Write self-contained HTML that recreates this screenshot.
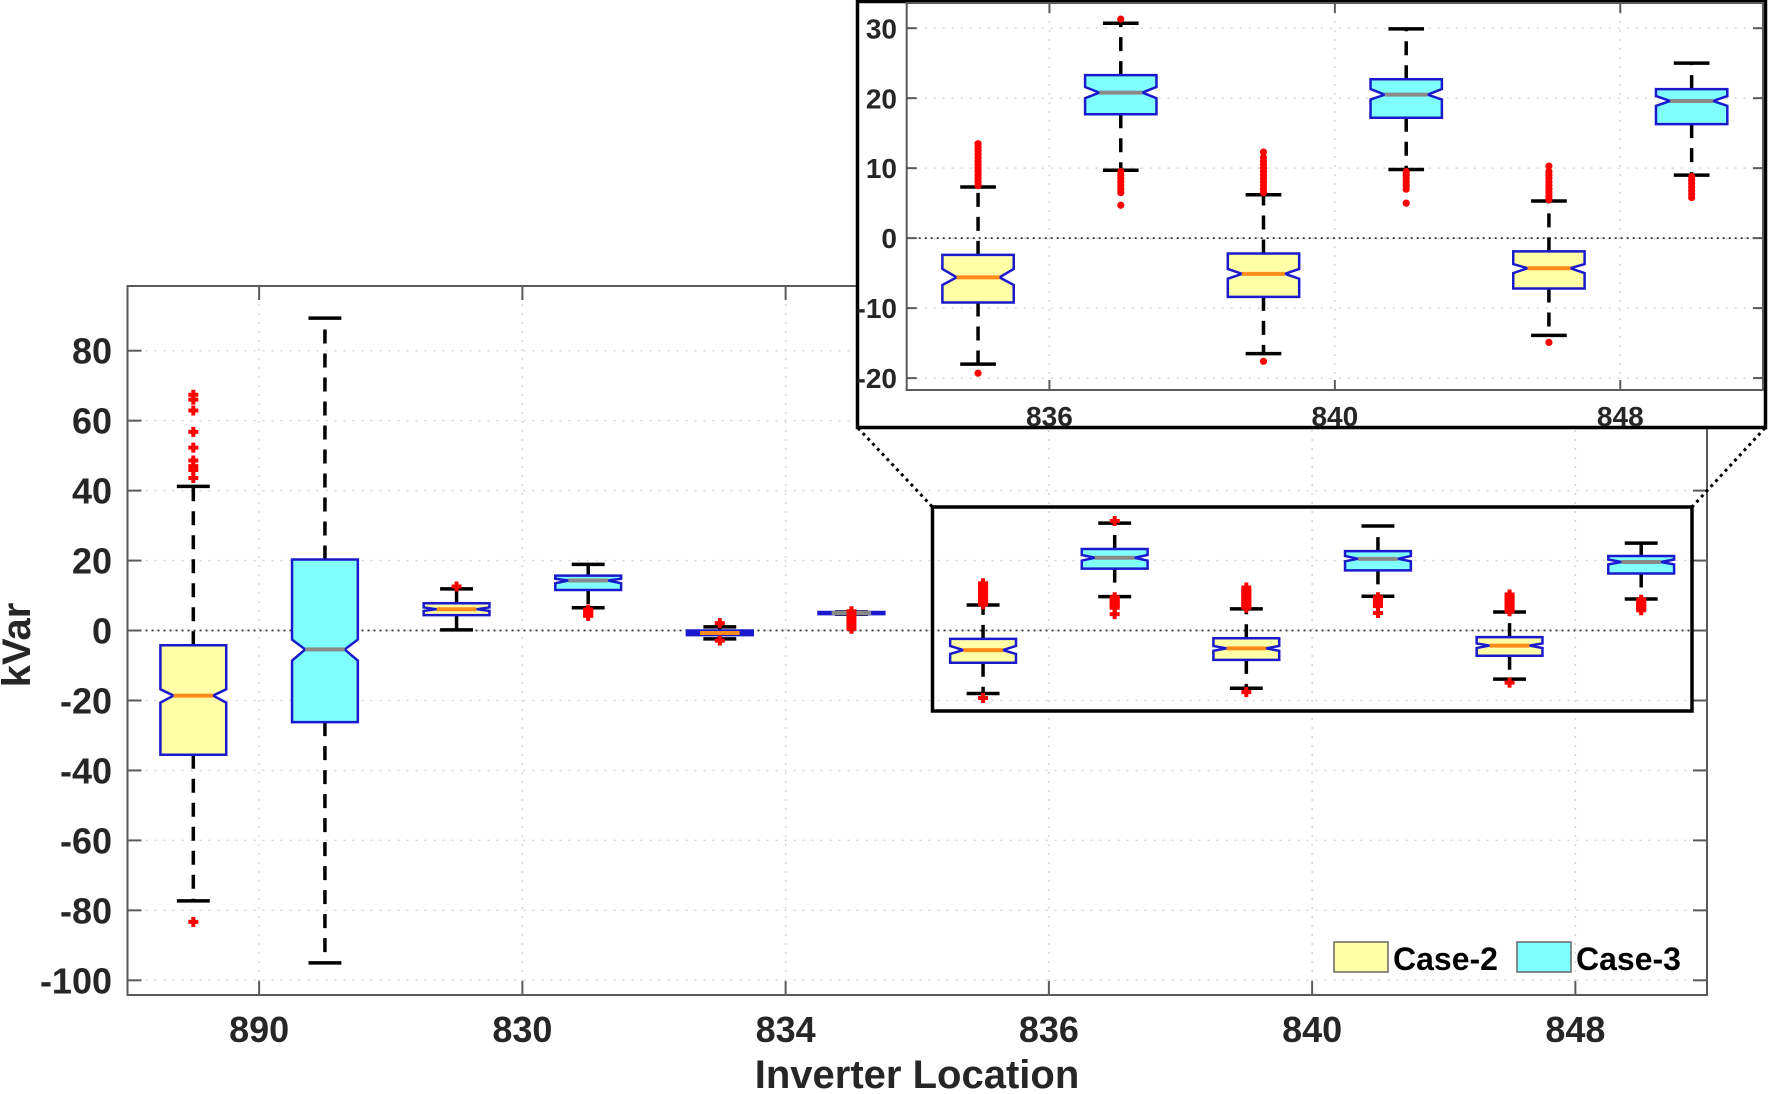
<!DOCTYPE html>
<html><head><meta charset="utf-8"><style>
html,body{margin:0;padding:0;background:#fff;}
svg{display:block;font-family:"Liberation Sans",Arial,sans-serif;font-weight:bold;}
</style></head>
<body>
<svg id="chart" width="1772" height="1094" viewBox="0 0 1772 1094" xmlns="http://www.w3.org/2000/svg">
<g id="main"></g>
<g id="inset"></g>
<g id="legend">
  <rect x="1334" y="942" width="54" height="30" fill="#ffffa6" stroke="#666" stroke-width="1.5"/>
  <text x="1393" y="970" font-size="32" fill="#000">Case-2</text>
  <rect x="1517" y="942" width="54" height="30" fill="#80ffff" stroke="#666" stroke-width="1.5"/>
  <text x="1576" y="970" font-size="32" fill="#000">Case-3</text>
</g>
<text x="0" y="0" font-size="40" fill="#262626" text-anchor="middle" transform="translate(30,645) rotate(-90)">kVar</text>
<text x="917" y="1088" font-size="40" fill="#262626" text-anchor="middle">Inverter Location</text>
</svg>
<script>
// ---- data ----
const categories = ["890","830","834","836","840","848"];
const series = ["Case-2","Case-3"];
const q3 = [-4.2, 20.3, 7.8, 15.7, 0, 5.3, -2.4, 23.3, -2.2, 22.7, -1.9, 21.3];
const q1 = [-35.5, -26.2, 4.4, 11.6, -1.3, 4.7, -9.2, 17.7, -8.4, 17.2, -7.2, 16.3];
const med = [-18.6, -5.4, 6.1, 14.3, -0.7, 5.0, -5.6, 20.8, -5.1, 20.5, -4.3, 19.6];
const notchHi = [-16.8, -2.6, 6.6, 14.8, -0.5, 5.1, -4.4, 21.6, -4.4, 21.3, -3.7, 20.3];
const notchLo = [-20.6, -8.6, 5.6, 13.5, -1.0, 4.9, -6.7, 20.0, -5.8, 19.8, -5.0, 18.9];
const whiskHi = [41.2, 89.3, 11.9, 18.9, 1.05, 5.3, 7.3, 30.7, 6.2, 29.9, 5.3, 25.0];
const whiskLo = [-77.3, -95.0, 0.2, 6.5, -2.4, 4.7, -18.0, 9.7, -16.5, 9.8, -13.9, 9.0];
const outliers = [
  [67.4, 66, 62.9, 56.8, 52.3, 48.6, 47, 45.9, 43.6, -83.3],
  [],
  [12.6],
  [6, 5.5, 5, 4.5, 4.2],
  [2.1, -2.9],
  [5.5, 4.5, 3.5, 2.5, 1.5, 0.5],
  [7.5, 8, 8.5, 9, 9.5, 10, 10.5, 11, 11.5, 12, 12.5, 13, 13.5, -19.3],
  [31.3, 9.5, 9, 8.5, 8, 7.5, 7, 6.5, 4.7],
  [6.5, 7, 7.5, 8, 8.5, 9, 9.5, 10, 10.5, 11, 11.5, 12.3, -17.6],
  [9.5, 9, 8.5, 8, 7.5, 7, 5],
  [5.5, 6, 6.5, 7, 7.5, 8, 8.5, 9, 9.5, 10.3, -14.9],
  [8.8, 8.3, 7.8, 7.3, 6.8, 6.3, 5.8]
];
const mainYTicks = [80, 60, 40, 20, 0, -20, -40, -60, -80, -100];
const insetYTicks = [30, 20, 10, 0, -10, -20];
const insetCategories = ["836","840","848"];

const NS = "http://www.w3.org/2000/svg";
function el(parent, tag, attrs, txt) {
  const e = document.createElementNS(NS, tag);
  for (const k in attrs) e.setAttribute(k, attrs[k]);
  if (txt !== undefined) e.textContent = txt;
  parent.appendChild(e);
  return e;
}

// axis configs
const M = {l:127.5, r:1707, t:286, b:995, x0:0.5, x1:12.5, y0:-104.2, y1:98.5};
const I = {l:906.7, r:1763, t:3, b:390, x0:6.5, x1:12.5, y0:-21.7, y1:33.6};
function sx(A, x) { return A.l + (x - A.x0) / (A.x1 - A.x0) * (A.r - A.l); }
function sy(A, v) { return A.b - (v - A.y0) / (A.y1 - A.y0) * (A.b - A.t); }

function drawAxes(g, A, yTicks, cats, firstCat, fs, tickLen, labelX, labelY) {
  // grid
  yTicks.forEach(v => {
    const line = el(g, "line", {x1:A.l, x2:A.r, y1:sy(A,v), y2:sy(A,v), stroke:"#d6d6d6", "stroke-width":1.5, "stroke-dasharray":"2 7"});
    
    
  });
  cats.forEach((c, i) => {
    const x = sx(A, firstCat + 2*i + 0.5);
    const line = el(g, "line", {x1:x, x2:x, y1:A.t, y2:A.b, stroke:"#d6d6d6", "stroke-width":1.5, "stroke-dasharray":"2 7"});
    
    
  });
  // zero line
  const z = el(g, "line", {x1:A.l, x2:A.r, y1:sy(A,0), y2:sy(A,0), stroke:"#333", "stroke-width":1.8, "stroke-dasharray":"2 4"});
  
  
  // frame
  const fr = el(g, "rect", {x:A.l, y:A.t, width:A.r-A.l, height:A.b-A.t, fill:"none", stroke:"#5a5a5a", "stroke-width":2});
  
  
  // y ticks + labels
  yTicks.forEach(v => {
    const y = sy(A, v);
    const t1 = el(g, "line", {x1:A.l, x2:A.l+tickLen, y1:y, y2:y, stroke:"#5a5a5a", "stroke-width":2});
    
    
    const t2 = el(g, "line", {x1:A.r, x2:A.r-tickLen, y1:y, y2:y, stroke:"#5a5a5a", "stroke-width":2});
    
    
    const lb = el(g, "text", {x:labelX, y:y + fs*0.36, "font-size":fs, fill:"#262626", "text-anchor":"end"}, String(v));
    
    
  });
  cats.forEach((c, i) => {
    const x = sx(A, firstCat + 2*i + 0.5);
    const t1 = el(g, "line", {x1:x, x2:x, y1:A.b, y2:A.b-tickLen, stroke:"#5a5a5a", "stroke-width":2});
    
    
    const t2 = el(g, "line", {x1:x, x2:x, y1:A.t, y2:A.t+tickLen, stroke:"#5a5a5a", "stroke-width":2});
    
    
    const lb = el(g, "text", {x:x, y:labelY, "font-size":fs, fill:"#262626", "text-anchor":"middle"}, c);
    
    
  });
}

function drawBoxes(g, A, from, to, dots) {
  for (let i = from; i < to; i++) {
    const x = i + 1;
    const isC3 = (i % 2) === 1;
    const bg = el(g, "g", {});
    
    
    const L = sx(A, x - 0.25), R = sx(A, x + 0.25), C = sx(A, x);
    const d = (R - L) * 0.2;
    const yq3 = sy(A, q3[i]), yq1 = sy(A, q1[i]), ym = sy(A, med[i]);
    const yh = Math.max(sy(A, notchHi[i]), yq3), yl = Math.min(sy(A, notchLo[i]), yq1);
    const capW = (R - L) / 4;
    // whiskers
    const w1 = el(bg, "line", {x1:C, x2:C, y1:yq3, y2:sy(A, whiskHi[i]), stroke:"#000", "stroke-width":3.5, "stroke-dasharray":"14 10"});
    
    
    const w2 = el(bg, "line", {x1:C, x2:C, y1:yq1, y2:sy(A, whiskLo[i]), stroke:"#000", "stroke-width":3.5, "stroke-dasharray":"14 10"});
    
    
    const c1 = el(bg, "line", {x1:C-capW, x2:C+capW, y1:sy(A, whiskHi[i]), y2:sy(A, whiskHi[i]), stroke:"#000", "stroke-width":3.5});
    
    
    const c2 = el(bg, "line", {x1:C-capW, x2:C+capW, y1:sy(A, whiskLo[i]), y2:sy(A, whiskLo[i]), stroke:"#000", "stroke-width":3.5});
    
    
    // box
    const p = `M${L},${yq3} L${R},${yq3} L${R},${yh} L${R-d},${ym} L${R},${yl} L${R},${yq1} L${L},${yq1} L${L},${yl} L${L+d},${ym} L${L},${yh} Z`;
    const bx = el(bg, "path", {d:p, fill:isC3 ? "#80ffff" : "#ffffa6", stroke:"#1a1acc", "stroke-width":2.5, "stroke-linejoin":"miter"});
    
    
    const md = el(bg, "line", {x1:L+d, x2:R-d, y1:ym, y2:ym, stroke:isC3 ? "#8a8a8a" : "#ff8c1a", "stroke-width":4});
    
    
    // outliers
    outliers[i].forEach(v => {
      const y = sy(A, v);
      if (dots) {
        const c = el(bg, "circle", {cx:C, cy:y, r:3.6, fill:"#ff0000"});
        
        
      } else {
        const pl = el(bg, "path", {d:`M${C-5},${y} H${C+5} M${C},${y-5} V${y+5}`, stroke:"#ff0000", "stroke-width":4});
        
        
      }
    });
  }
}

const gm = document.getElementById("main");
drawAxes(gm, M, mainYTicks, categories, 1, 36, 14, 112, 1042);
drawBoxes(gm, M, 0, 12, false);

// zoom rectangle + connectors
const zr = el(gm, "rect", {x:932.5, y:507, width:759.5, height:204, fill:"none", stroke:"#000", "stroke-width":3.5});


const cl = el(gm, "line", {x1:858, y1:428, x2:932.5, y2:507, stroke:"#000", "stroke-width":3, "stroke-dasharray":"3 4"});


const cr = el(gm, "line", {x1:1765, y1:428, x2:1692, y2:507, stroke:"#000", "stroke-width":3, "stroke-dasharray":"3 4"});



// inset
const gi = document.getElementById("inset");
const ib = el(gi, "rect", {x:857.5, y:1.5, width:908, height:426, fill:"#fff", stroke:"#000", "stroke-width":3.5});


drawAxes(gi, I, insetYTicks, insetCategories, 7, 28, 10, 897, 426);
drawBoxes(gi, I, 6, 12, true);
</script>
</body></html>
